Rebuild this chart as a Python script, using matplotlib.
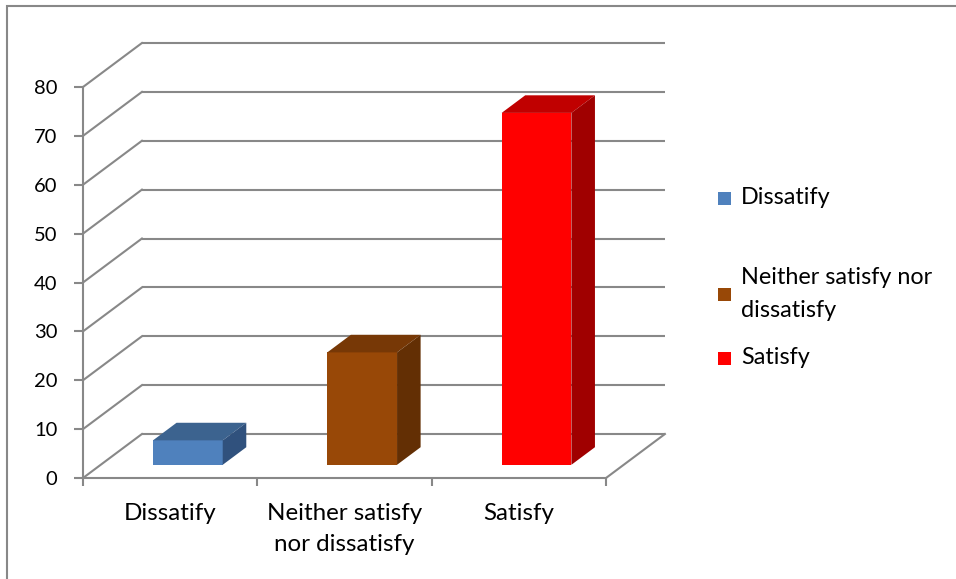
import matplotlib
matplotlib.use("Agg")
import matplotlib.pyplot as plt
from matplotlib.patches import Polygon, Rectangle

categories = ["Dissatify", "Neither satisfy\nnor dissatisfy", "Satisfy"]
legend_labels = ["Dissatify", "Neither satisfy nor\ndissatisfy", "Satisfy"]
values = [5, 23, 72]
y_ticks = [0, 10, 20, 30, 40, 50, 60, 70, 80]

front_colors = ["#4F81BD", "#984807", "#FF0000"]
top_colors = ["#3C638F", "#773806", "#C00000"]
side_colors = ["#30517D", "#632F04", "#A00000"]

plt.rcParams['font.family'] = ['Lato', 'DejaVu Sans']
GRID = "#888888"
LW = 1.5

W, H = 956, 579
fig = plt.figure(figsize=(W / 100, H / 100), dpi=100)

# front plane of the 3D box in pixels
left_px, right_px, bottom_px, top_px = 83, 606, 478, 87
ax = fig.add_axes([left_px / W, 1 - bottom_px / H,
                   (right_px - left_px) / W, (bottom_px - top_px) / H])
n = len(categories)
ax.set_xlim(0, n)
ax.set_ylim(0, 80)
ax.patch.set_visible(False)

# depth offset (data units) for the full depth of the box
DX, DY = 0.338, 9.0

# back wall gridlines and side wall diagonals
for v in y_ticks:
    ax.plot([DX, n + DX], [v + DY, v + DY], color=GRID, lw=LW, clip_on=False, zorder=1,
            solid_capstyle='butt')
    ax.plot([0, DX], [v, v + DY], color=GRID, lw=LW, clip_on=False, zorder=1)
# floor right diagonal
ax.plot([n, n + DX], [0, DY], color=GRID, lw=LW, clip_on=False, zorder=1)

# bars
d0, d1 = 0.30, 0.70
bw = 0.40
for i, v in enumerate(values):
    xc = i + 0.5
    x0 = xc - bw / 2 + d0 * DX
    x1 = xc + bw / 2 + d0 * DX
    yb = d0 * DY
    ax.bar(x0, v, width=bw, bottom=yb, align='edge', color=front_colors[i],
           edgecolor='none', zorder=3, clip_on=False)
    dd = (d1 - d0)
    top = Polygon([(x0, yb + v), (x1, yb + v), (x1 + dd * DX, yb + v + dd * DY),
                   (x0 + dd * DX, yb + v + dd * DY)], closed=True,
                  facecolor=top_colors[i], edgecolor='none', zorder=3, clip_on=False)
    side = Polygon([(x1, yb), (x1 + dd * DX, yb + dd * DY), (x1 + dd * DX, yb + v + dd * DY),
                    (x1, yb + v)], closed=True,
                   facecolor=side_colors[i], edgecolor='none', zorder=3, clip_on=False)
    ax.add_patch(top)
    ax.add_patch(side)

# axes styling
for s in ["top", "right"]:
    ax.spines[s].set_visible(False)
for s in ["left", "bottom"]:
    ax.spines[s].set_color(GRID)
    ax.spines[s].set_linewidth(LW)
    ax.spines[s].set_zorder(2)

ax.set_yticks(y_ticks)
ax.set_yticklabels([str(t) for t in y_ticks])
ax.tick_params(axis='y', direction='out', length=6.5, width=LW, color=GRID,
               pad=12, labelsize=14.5, labelcolor='black')

ax.set_xticks(range(n + 1))
ax.set_xticklabels([])
ax.tick_params(axis='x', which='major', direction='out', length=6, width=LW, color=GRID)
ax.set_xticks([i + 0.5 for i in range(n)], minor=True)
ax.set_xticklabels(categories, minor=True, fontsize=17.4, linespacing=1.6)
ax.tick_params(axis='x', which='minor', length=0, pad=18)

# legend (manual, Excel-style spacing)
leg_items_y = [198, 294, 358]
for lbl, col, yc in zip(legend_labels, front_colors, leg_items_y):
    fig.add_artist(Rectangle((718 / W, 1 - (yc + 6.5) / H), 13 / W, 13 / H,
                             transform=fig.transFigure, facecolor=col, edgecolor='none'))
    fig.text(741 / W, 1 - yc / H, lbl, fontsize=16.8, va='center', ha='left',
             linespacing=1.75)

# outer chart border (left and top visible)
fig.add_artist(Rectangle((7 / W, -0.05), 1.2, 1.05 - 6 / H, transform=fig.transFigure,
                         facecolor='none', edgecolor=GRID, lw=1.5))

fig.savefig("out.png", dpi=100)
